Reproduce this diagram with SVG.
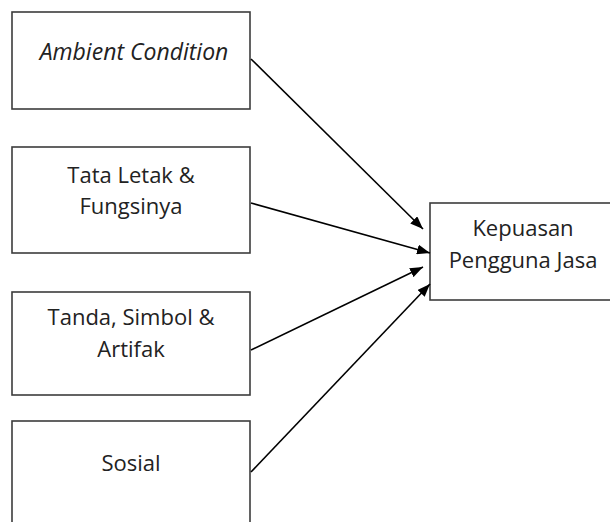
<svg xmlns="http://www.w3.org/2000/svg" width="610" height="522" viewBox="0 0 610 522">
<defs>
<style>
.box{fill:#fff;stroke:#3c3c3c;stroke-width:1.6}
.t{font-family:"Open Sans","Liberation Sans",sans-serif;font-size:22px;fill:#222;text-anchor:middle}
.conn line{stroke:#000;stroke-width:1.6;marker-end:url(#ah)}
</style>
<marker id="ah" viewBox="0 0 13 10" refX="13" refY="5" markerWidth="13" markerHeight="10" markerUnits="userSpaceOnUse" orient="auto">
<path d="M0,0 L13,5 L0,10 z" fill="#000"/>
</marker>
</defs>
<rect width="610" height="522" fill="#fff"/>
<g id="ambient">
<rect class="box" x="12" y="12" width="238" height="97"/>
<text class="t" x="134" y="60" font-style="italic" style="font-size:23px">Ambient Condition</text>
</g>
<g id="tata">
<rect class="box" x="12" y="147" width="238" height="106"/>
<text class="t" x="131" y="183">Tata Letak &amp;</text>
<text class="t" x="131" y="214">Fungsinya</text>
</g>
<g id="tanda">
<rect class="box" x="12" y="292" width="238" height="103"/>
<text class="t" x="131" y="325">Tanda, Simbol &amp;</text>
<text class="t" x="131" y="357">Artifak</text>
</g>
<g id="sosial">
<rect class="box" x="12" y="421" width="238" height="120"/>
<text class="t" x="131" y="471">Sosial</text>
</g>
<g id="kepuasan">
<rect class="box" x="430" y="203" width="186" height="97"/>
<text class="t" x="523" y="236">Kepuasan</text>
<text class="t" x="523" y="268">Pengguna Jasa</text>
</g>
<g class="conn">
<line x1="251" y1="59" x2="423" y2="229"/>
<line x1="251" y1="203" x2="430" y2="253"/>
<line x1="251" y1="350" x2="423" y2="267"/>
<line x1="251" y1="472" x2="430" y2="284"/>
</g>
</svg>
